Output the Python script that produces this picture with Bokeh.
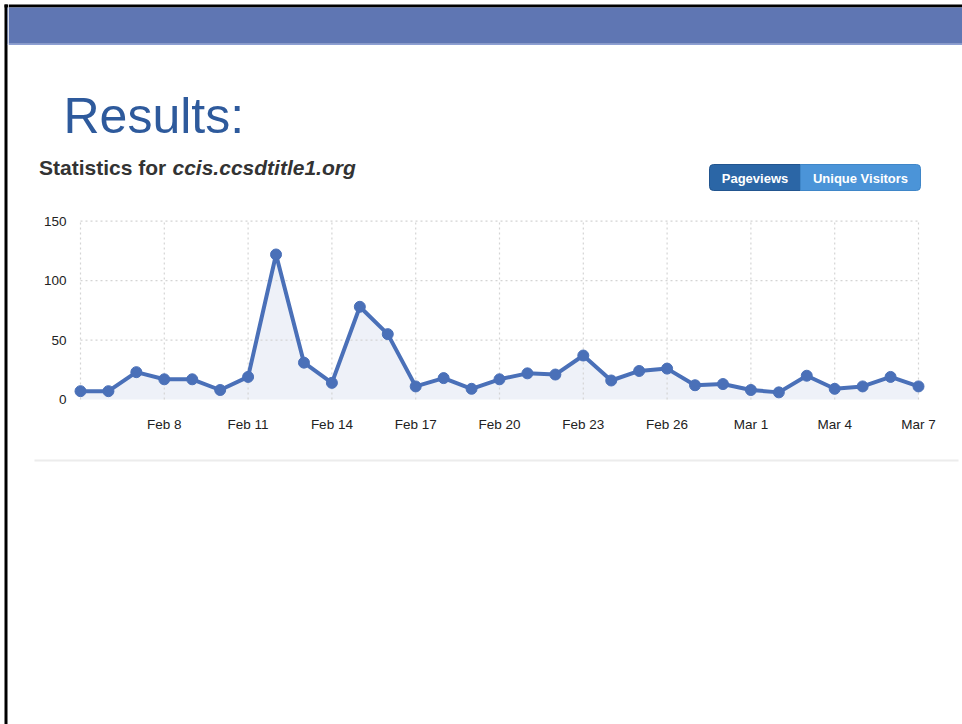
from bokeh.plotting import figure
from bokeh.layouts import row, column
from bokeh.models import Range1d, FixedTicker, ColumnDataSource
from bokeh.core.properties import value
from bokeh.embed import file_html
from bokeh.resources import INLINE

# ---- data ----
dates = ["Feb 5", "Feb 6", "Feb 7", "Feb 8", "Feb 9", "Feb 10", "Feb 11", "Feb 12",
         "Feb 13", "Feb 14", "Feb 15", "Feb 16", "Feb 17", "Feb 18", "Feb 19", "Feb 20",
         "Feb 21", "Feb 22", "Feb 23", "Feb 24", "Feb 25", "Feb 26", "Feb 27", "Feb 28",
         "Mar 1", "Mar 2", "Mar 3", "Mar 4", "Mar 5", "Mar 6", "Mar 7"]
pageviews = [7, 7, 23, 17, 17, 8, 19, 122, 31, 14, 78, 55, 11, 18, 9, 17,
             22, 21, 37, 16, 24, 26, 12, 13, 8, 6, 20, 9, 11, 19, 11]
y_ticks = [0, 50, 100, 150]
x_grid_every = 3
title_text = "Results:"
heading_text = "Statistics for "
site_text = "ccis.ccsdtitle1.org"
button_texts = ["Pageviews", "Unique Visitors"]

idx = list(range(len(dates)))
x_ticks = idx[::x_grid_every]            # grid lines: Feb 5, Feb 8, ... Mar 7
x_label_ticks = x_ticks[1:]               # labels start at Feb 8

FONT = "Liberation Sans"
LINE = "#4a70b8"
FILL = "#eef1f8"
GRID = "#d4d4d4"
BAND = "#5f76b3"
TOTAL_W, TOTAL_H = 962, 724
STRIP_W = 8
COL_W = TOTAL_W - STRIP_W
TOP_H, CHART_H = 205, 240
BOT_H = TOTAL_H - TOP_H - CHART_H
MID = 0.3465  # em offset of "middle" baseline above alphabetic baseline


def no_align(f):
    try:
        f.frame_align = False
    except Exception:
        pass


def blank(w, h, x0, x1, y0, y1):
    f = figure(width=w, height=h, x_range=Range1d(x0, x1), y_range=Range1d(y0, y1),
               output_backend="svg", toolbar_location=None, x_axis_type=None, y_axis_type=None,
               min_border=0)
    f.outline_line_color = None
    f.xgrid.visible = False
    f.ygrid.visible = False
    f.background_fill_color = "white"
    f.border_fill_color = "white"
    no_align(f)
    return f


def rquad(f, l, r, t, b, color, radius=None, line_color=None):
    kw = dict(left=[l], right=[r], top=[t], bottom=[b], fill_color=color,
              line_color=line_color if line_color else None)
    if radius is not None:
        try:
            return f.quad(border_radius=radius, **kw)
        except Exception:
            pass
    return f.quad(**kw)


def txt(f, x, baseline_y, text, size, color, style="normal", align="left"):
    f.text(x=[x], y=[baseline_y - MID * size], text=[text], text_font=value(FONT),
           text_font_size=f"{size}px", text_font_style=style, text_color=color,
           text_align=align, text_baseline="middle")


# ---- left strip (slide border) : page coords x 0..8 ----
strip = blank(STRIP_W, TOTAL_H, 0, STRIP_W, TOTAL_H, 0)
rquad(strip, 4, 7, 4, TOTAL_H, "#000000")
rquad(strip, 4, 8, 4, 7, "#000000")
rquad(strip, 7, 8, 7, 43.3, BAND)
rquad(strip, 7, 8, 43.3, 44.5, "#8d9fd3")

# ---- top figure: page coords x 8..962, y 0..205 ----
top = blank(COL_W, TOP_H, STRIP_W, TOTAL_W, TOP_H, 0)
rquad(top, STRIP_W, TOTAL_W, 4, 7, "#000000")
rquad(top, STRIP_W, TOTAL_W, 7, 43.3, BAND)
rquad(top, STRIP_W, TOTAL_W, 43.3, 44.5, "#8d9fd3")

txt(top, 63, 133.3, title_text, 50, "#2e5a9c")
txt(top, 38.5, 174, heading_text, 21, "#333333", style="bold")
txt(top, 172, 174, site_text, 21, "#333333", style="bold italic")

rquad(top, 709, 800, 164, 190, "#2b66a6", radius=(4, 0, 0, 4), line_color="#22558f")
rquad(top, 800, 920, 164, 190, "#4b94d8", radius=(0, 4, 4, 0), line_color="#3f86c8")
top.text(x=[754.5, 860], y=[177.5, 177.5], text=button_texts, text_font=value(FONT),
         text_font_size="13px", text_font_style="bold", text_color="#ffffff",
         text_align="center", text_baseline="middle")

# ---- chart figure: page y 205..445 ----
X0, X1 = -0.2864, len(dates) - 1 + 0.2864
Y0, Y1 = -1.68, 154.8

p = figure(width=COL_W, height=CHART_H, x_range=Range1d(X0, X1), y_range=Range1d(Y0, Y1),
           output_backend="svg", toolbar_location=None,
           min_border_left=64, min_border_right=36, min_border_top=10, min_border_bottom=44)
p.outline_line_color = None
p.background_fill_color = "white"
p.border_fill_color = "white"
p.xgrid.visible = False
p.ygrid.visible = False
no_align(p)

for ax in (p.xaxis[0], p.yaxis[0]):
    ax.axis_line_color = None
    ax.major_tick_line_color = None
    ax.minor_tick_line_color = None
    ax.major_tick_out = 0
    ax.major_tick_in = 0
    ax.major_label_text_font = FONT
    ax.major_label_text_font_size = "13.5px"
    ax.major_label_text_color = "#222222"

p.xaxis.ticker = FixedTicker(ticks=x_label_ticks)
p.xaxis.major_label_overrides = {i: dates[i] for i in x_label_ticks}
p.xaxis.major_label_standoff = 15
p.yaxis.ticker = FixedTicker(ticks=y_ticks)
p.yaxis.major_label_standoff = 6

src = ColumnDataSource(dict(x=idx, y=pageviews))

p.varea(x="x", y1=0, y2="y", source=src, fill_color=FILL)

p.segment(x0=x_ticks, y0=[y_ticks[0]] * len(x_ticks), x1=x_ticks, y1=[y_ticks[-1]] * len(x_ticks),
          line_color=GRID, line_width=1.2, line_dash="2 3")
hy = y_ticks[1:]
p.segment(x0=[idx[0]] * len(hy), y0=hy, x1=[idx[-1]] * len(hy), y1=hy,
          line_color=GRID, line_width=1.2, line_dash="2 3")

p.line(x="x", y="y", source=src, line_color=LINE, line_width=4, line_join="round")
p.scatter(x="x", y="y", source=src, size=11, fill_color=LINE, line_color=LINE)

# ---- bottom figure: page y 445..724 ----
bot = blank(COL_W, BOT_H, STRIP_W, TOTAL_W, TOTAL_H, TOP_H + CHART_H)
rquad(bot, 34, 958, 459, 461, "#ececec")

layout = row(strip, column(top, p, bot))

open("out.html", "w").write(file_html(layout, INLINE))
